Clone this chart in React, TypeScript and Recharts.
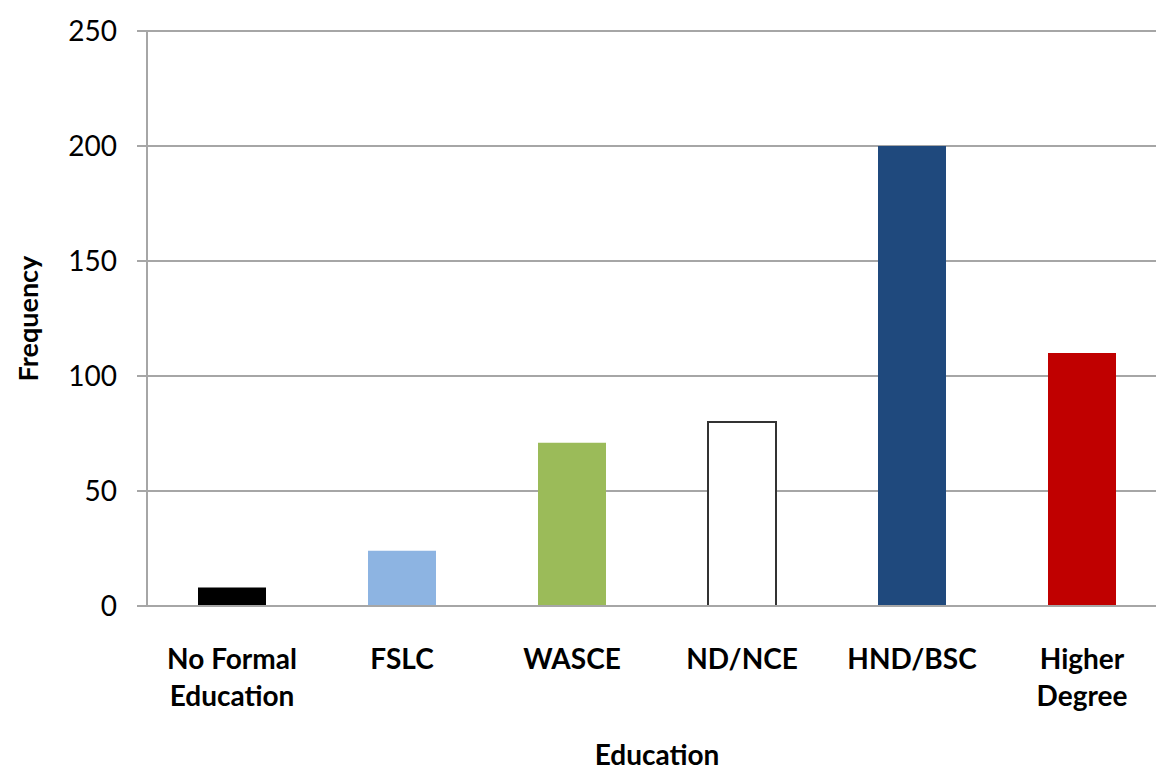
import React from 'react';
import { BarChart, Bar, XAxis, YAxis, CartesianGrid, Cell } from 'recharts';

const categories = ['No Formal\nEducation', 'FSLC', 'WASCE', 'ND/NCE', 'HND/BSC', 'Higher\nDegree'];
const frequency = [8, 24, 71, 80, 200, 110];
const barColors = ['#000000', '#8DB4E2', '#9BBB59', '#FFFFFF', '#1F497D', '#C00000'];
const yTicks = [0, 50, 100, 150, 200, 250];

const data = categories.map((name, i) => ({ name, value: frequency[i] }));

const FONT = 'Lato, "Open Sans", sans-serif';
const GRID = '#A6A6A6';

// two-line category labels, split on \n
const CategoryTick = (props: any) => {
  const { x, y, payload } = props;
  const lines = String(payload.value).split('\n');
  return (
    <text x={x} y={y} textAnchor="middle" fontFamily={FONT} fontSize={28} fontWeight="bold" fill="#000">
      {lines.map((line, i) => (
        <tspan key={i} x={x} dy={i === 0 ? 63 : 37}>{line}</tspan>
      ))}
    </text>
  );
};

export default function App() {
  return (
    <div style={{ position: 'absolute', left: 0, top: 0, width: 1156, height: 773, overflow: 'hidden', background: '#fff' }}>
      <BarChart
        width={1180}
        height={773}
        data={data}
        margin={{ top: 31, right: 13, left: 0, bottom: 0 }}
        barCategoryGap="30%"
      >
        <CartesianGrid vertical={false} stroke={GRID} strokeWidth={2} />
        <XAxis
          dataKey="name"
          height={167}
          interval={0}
          tickLine={false}
          tickSize={0}
          tickMargin={0}
          axisLine={{ stroke: GRID, strokeWidth: 2 }}
          tick={<CategoryTick />}
          label={{ value: 'Education', position: 'insideBottom', offset: 8, fontFamily: FONT, fontSize: 28, fontWeight: 'bold', fill: '#000' }}
        />
        <YAxis
          width={147}
          domain={[0, 250]}
          ticks={yTicks}
          interval={0}
          tickSize={10}
          tickMargin={20}
          tickLine={{ stroke: GRID, strokeWidth: 2 }}
          axisLine={{ stroke: GRID, strokeWidth: 2 }}
          tick={{ fontFamily: FONT, fontSize: 28, fill: '#000' }}
          label={{ value: 'Frequency', angle: -90, position: 'insideLeft', offset: 28, style: { textAnchor: 'middle' }, fontFamily: FONT, fontSize: 27, fontWeight: 'bold', fill: '#000' }}
        />
        <Bar dataKey="value" isAnimationActive={false}>
          {data.map((d, i) => (
            <Cell
              key={d.name}
              fill={barColors[i]}
              stroke={barColors[i] === '#FFFFFF' ? '#333333' : 'none'}
              strokeWidth={barColors[i] === '#FFFFFF' ? 2 : 0}
            />
          ))}
        </Bar>
      </BarChart>
    </div>
  );
}
